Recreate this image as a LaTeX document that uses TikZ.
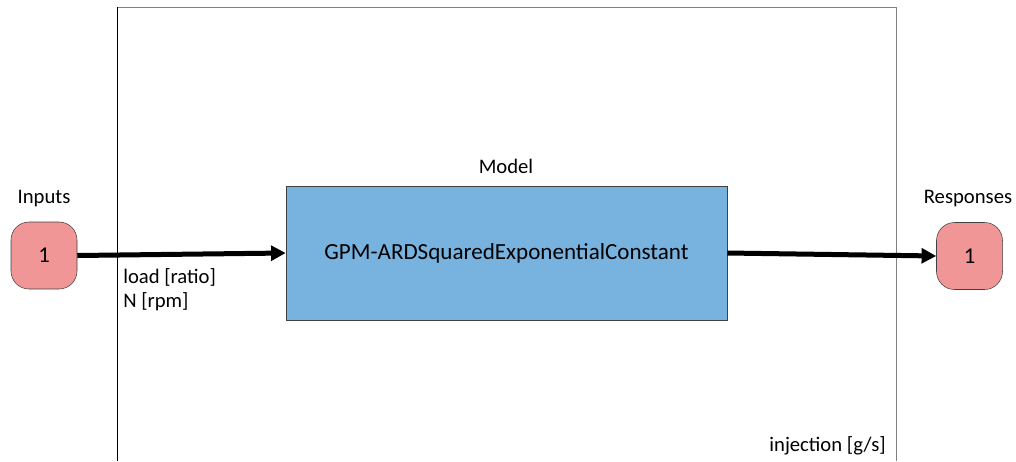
\documentclass[tikz,border=0pt]{standalone}
\usepackage{fontspec}
\setmainfont{Carlito}
\usetikzlibrary{arrows.meta}

\definecolor{portpink}{HTML}{F19696}
\definecolor{modelblue}{HTML}{78B3E0}
\definecolor{edgegray}{HTML}{404040}
\definecolor{framegray}{HTML}{808080}

\tikzset{
  port/.style={draw=edgegray, fill=portpink, rounded corners=13.5pt, minimum width=49.5pt, minimum height=50.25pt, inner sep=0pt, font=\fontsize{17}{20}\selectfont},
  modelbox/.style={draw=edgegray, fill=modelblue, minimum width=330.75pt, minimum height=100.5pt, inner sep=0pt, font=\fontsize{17.3}{20}\selectfont},
  flow/.style={line width=3.75pt, -{Triangle[length=11pt, width=11pt]}},
  caption/.style={font=\fontsize{15.5}{18}\selectfont, inner sep=0pt},
}

\begin{document}
\begin{tikzpicture}[x=0.75pt, y=-0.75pt]
\useasboundingbox (0,0) rectangle (1016,461);

% frame
\draw[framegray, line width=0.75pt] (117,461) -- (117,7) -- (896,7) -- (896,461);
\draw[black, line width=0.75pt] (117,461) -- (117,7);

% ports and model
\node[port] (inp) at (44,255.5) {1};
\node[port] (out) at (969.5,256) {1};
\node[modelbox] (model) at (506.5,253) {GPM-ARDSquaredExponentialConstant};

% titles
\node[caption] (inpTitle)   at (44,199)   {Inputs};
\node[caption] (outTitle)   at (968,199)  {Responses};
\node[caption] (modelTitle) at (506,166)  {Model};

% signals
\draw[flow] (inp.east) -- (model.west);
\draw[flow] (model.east) -- (out.west);

% variable names
\node[caption, anchor=west] (loadVar) at (123,277) {load [ratio]};
\node[caption, anchor=west] (speedVar) at (123,302) {N [rpm]};
\node[caption, anchor=east] (injVar) at (886,446) {injection [g/s]};

\end{tikzpicture}
\end{document}
